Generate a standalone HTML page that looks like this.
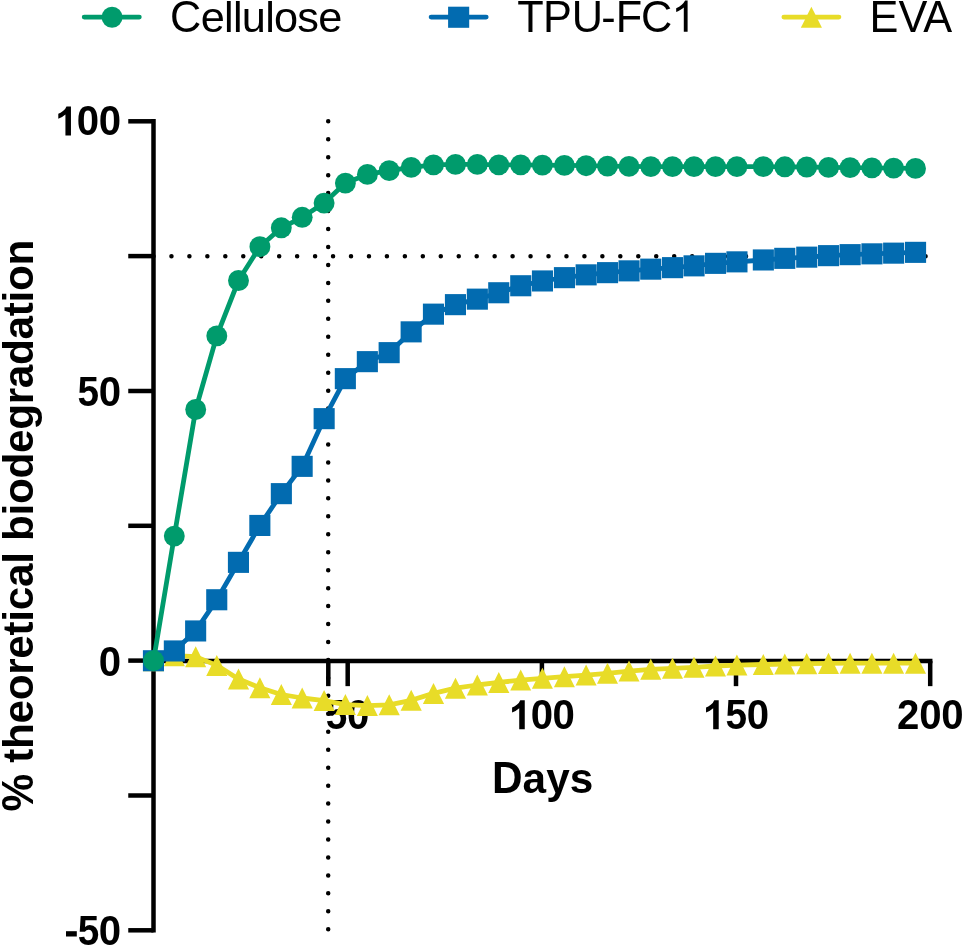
<!DOCTYPE html>
<html><head><meta charset="utf-8"><title>Biodegradation chart</title>
<style>html,body{margin:0;padding:0;background:#fff;}body{width:962px;height:945px;overflow:hidden;font-family:"Liberation Sans",sans-serif;}</style>
</head><body>
<svg width="962" height="945" viewBox="0 0 962 945" style="display:block;will-change:transform" font-family="Liberation Sans, sans-serif">
<rect width="962" height="945" fill="#fff"/>
<g stroke="#000" stroke-width="4.5" fill="none" stroke-linecap="butt">
<path d="M153.5 119.05V932.55"/>
<path d="M151.25 660.9H932.45"/>
<path d="M128.25 121.3H153.5"/>
<path d="M128.25 256.1H153.5"/>
<path d="M128.25 391.0H153.5"/>
<path d="M128.25 525.8H153.5"/>
<path d="M128.25 660.6H153.5"/>
<path d="M128.25 795.5H153.5"/>
<path d="M128.25 930.3H153.5"/>
<path d="M328.3 660.9V686.15"/>
<path d="M347.7 660.9V686.15"/>
<path d="M541.9 660.9V686.15"/>
<path d="M736.0 660.9V686.15"/>
<path d="M930.2 660.9V686.15"/>
</g>
<g font-weight="bold" font-size="41.67px" fill="#000">
<path transform="translate(55.10 135.40) scale(0.019678 -0.019678)" d="M806 0L525 0L525 1059Q371 915 162 846L162 1101Q272 1137 401 1237.5Q530 1338 578 1472L806 1472Z"/><text transform="translate(76.85 135.40) scale(0.965 1.01)">0</text><text transform="translate(98.75 135.40) scale(0.965 1.01)">0</text>
<text transform="translate(77.57 405.60) scale(0.93 1.01)">5</text><text transform="translate(98.75 405.60) scale(0.965 1.01)">0</text>
<text transform="translate(98.75 675.50) scale(0.965 1.01)">0</text>
<rect x="66.0" y="931.2" width="10.8" height="5.3"/><text transform="translate(77.67 945.40) scale(0.93 1.01)">5</text><text transform="translate(98.75 945.40) scale(0.965 1.01)">0</text>
<text transform="translate(325.67 729.20) scale(0.93 1.01)">5</text><text transform="translate(346.95 729.20) scale(0.965 1.01)">0</text>
<path transform="translate(508.90 729.20) scale(0.019678 -0.019678)" d="M806 0L525 0L525 1059Q371 915 162 846L162 1101Q272 1137 401 1237.5Q530 1338 578 1472L806 1472Z"/><text transform="translate(530.65 729.20) scale(0.965 1.01)">0</text><text transform="translate(552.60 729.20) scale(0.965 1.01)">0</text>
<path transform="translate(702.85 729.20) scale(0.019678 -0.019678)" d="M806 0L525 0L525 1059Q371 915 162 846L162 1101Q272 1137 401 1237.5Q530 1338 578 1472L806 1472Z"/><text transform="translate(725.57 729.20) scale(0.93 1.01)">5</text><text transform="translate(746.65 729.20) scale(0.965 1.01)">0</text>
<text transform="translate(896.98 729.20) scale(0.965 1.01)">2</text><text transform="translate(919.35 729.20) scale(0.965 1.01)">0</text><text transform="translate(941.35 729.20) scale(0.965 1.01)">0</text>
</g>
<g font-weight="bold" font-size="42.3px" fill="#000">
<text transform="translate(492.07 793.00) scale(1 1.04)">D</text>
<text x="522.62" y="793.0">ays</text>
<text transform="translate(32.8 811.5) rotate(-90) scale(1 1.07)">%</text>
<text transform="translate(32.8 762.78) rotate(-90) scale(1 1.02)" letter-spacing="-0.32">theoretical biodegradation</text>
</g>
<g stroke="#000" stroke-width="4.5" stroke-linecap="round" stroke-dasharray="0 17.955" fill="none">
<path d="M153.5 256.2H931.2"/>
<path d="M328.2 121.3V931.3"/>
</g>
<polyline points="153.5,660.7 174.3,655.7 195.7,656.7 216.8,665.4 238.5,679.0 259.9,687.8 281.3,694.5 302.2,698.0 324.1,700.6 345.4,704.6 367.4,705.6 389.2,704.8 411.2,700.3 433.5,693.4 455.5,688.2 477.3,685.0 498.8,682.4 520.7,680.1 542.4,678.3 564.4,676.7 586.1,675.1 607.5,673.3 629.0,671.1 650.8,669.3 672.5,668.3 694.0,667.3 715.5,666.0 736.9,665.1 763.3,664.5 784.8,664.0 806.7,663.6 828.5,663.4 850.1,663.2 871.9,663.2 893.6,663.2 915.5,663.2" fill="none" stroke="#E8DC28" stroke-width="4.8" stroke-linejoin="round" stroke-linecap="round"/>
<path fill="#E8DC28" d="M153.5 650.2L164.1 671.2L142.9 671.2ZM174.3 645.2L184.9 666.2L163.8 666.2ZM195.7 646.2L206.2 667.2L185.1 667.2ZM216.8 654.9L227.4 675.9L206.2 675.9ZM238.5 668.5L249.1 689.5L227.9 689.5ZM259.9 677.2L270.4 698.3L249.3 698.3ZM281.3 684.0L291.9 705.0L270.8 705.0ZM302.2 687.5L312.8 708.5L291.6 708.5ZM324.1 690.1L334.7 711.1L313.6 711.1ZM345.4 694.1L355.9 715.1L334.8 715.1ZM367.4 695.1L377.9 716.1L356.8 716.1ZM389.2 694.2L399.8 715.3L378.6 715.3ZM411.2 689.8L421.8 710.8L400.6 710.8ZM433.5 682.9L444.1 703.9L422.9 703.9ZM455.5 677.7L466.1 698.8L444.9 698.8ZM477.3 674.5L487.9 695.5L466.8 695.5ZM498.8 671.9L509.4 692.9L488.2 692.9ZM520.7 669.6L531.2 690.6L510.2 690.6ZM542.4 667.8L552.9 688.8L531.9 688.8ZM564.4 666.2L574.9 687.2L553.9 687.2ZM586.1 664.6L596.6 685.6L575.6 685.6ZM607.5 662.8L618.0 683.8L597.0 683.8ZM629.0 660.6L639.5 681.6L618.5 681.6ZM650.8 658.8L661.3 679.8L640.2 679.8ZM672.5 657.8L683.0 678.8L662.0 678.8ZM694.0 656.8L704.5 677.8L683.5 677.8ZM715.5 655.5L726.0 676.5L705.0 676.5ZM736.9 654.6L747.4 675.6L726.4 675.6ZM763.3 653.9L773.8 675.0L752.8 675.0ZM784.8 653.4L795.3 674.5L774.2 674.5ZM806.7 653.1L817.2 674.2L796.2 674.2ZM828.5 652.8L839.0 673.9L818.0 673.9ZM850.1 652.7L860.6 673.8L839.6 673.8ZM871.9 652.7L882.4 673.8L861.4 673.8ZM893.6 652.7L904.1 673.8L883.1 673.8ZM915.5 652.7L926.0 673.8L905.0 673.8Z"/>
<polyline points="153.5,660.7 174.3,650.9 195.7,630.9 216.8,599.7 238.5,562.3 259.9,525.4 281.3,493.7 302.2,466.4 324.1,418.7 345.4,378.6 367.4,361.6 389.2,352.6 411.2,331.9 433.5,314.2 455.5,304.6 477.3,299.2 498.8,292.8 520.7,285.8 542.4,281.0 564.4,277.7 586.1,274.9 607.5,272.7 629.0,270.9 650.8,269.2 672.5,267.7 694.0,265.9 715.5,263.4 736.9,261.9 763.3,260.0 784.8,258.4 806.7,257.2 828.5,255.7 850.1,254.7 871.9,253.9 893.6,253.2 915.5,252.4" fill="none" stroke="#026BB0" stroke-width="4.8" stroke-linejoin="round" stroke-linecap="round"/>
<g fill="#026BB0"><rect x="142.9" y="650.2" width="21.1" height="21.1"/><rect x="163.8" y="640.4" width="21.1" height="21.1"/><rect x="185.1" y="620.4" width="21.1" height="21.1"/><rect x="206.2" y="589.2" width="21.1" height="21.1"/><rect x="227.9" y="551.8" width="21.1" height="21.1"/><rect x="249.3" y="514.9" width="21.1" height="21.1"/><rect x="270.8" y="483.1" width="21.1" height="21.1"/><rect x="291.6" y="455.8" width="21.1" height="21.1"/><rect x="313.6" y="408.1" width="21.1" height="21.1"/><rect x="334.8" y="368.1" width="21.1" height="21.1"/><rect x="356.8" y="351.1" width="21.1" height="21.1"/><rect x="378.6" y="342.1" width="21.1" height="21.1"/><rect x="400.6" y="321.3" width="21.1" height="21.1"/><rect x="422.9" y="303.6" width="21.1" height="21.1"/><rect x="444.9" y="294.1" width="21.1" height="21.1"/><rect x="466.8" y="288.6" width="21.1" height="21.1"/><rect x="488.2" y="282.2" width="21.1" height="21.1"/><rect x="510.2" y="275.2" width="21.1" height="21.1"/><rect x="531.9" y="270.4" width="21.1" height="21.1"/><rect x="553.9" y="267.1" width="21.1" height="21.1"/><rect x="575.6" y="264.3" width="21.1" height="21.1"/><rect x="597.0" y="262.1" width="21.1" height="21.1"/><rect x="618.5" y="260.3" width="21.1" height="21.1"/><rect x="640.2" y="258.6" width="21.1" height="21.1"/><rect x="662.0" y="257.1" width="21.1" height="21.1"/><rect x="683.5" y="255.3" width="21.1" height="21.1"/><rect x="705.0" y="252.8" width="21.1" height="21.1"/><rect x="726.4" y="251.3" width="21.1" height="21.1"/><rect x="752.8" y="249.4" width="21.1" height="21.1"/><rect x="774.2" y="247.8" width="21.1" height="21.1"/><rect x="796.2" y="246.6" width="21.1" height="21.1"/><rect x="818.0" y="245.1" width="21.1" height="21.1"/><rect x="839.6" y="244.1" width="21.1" height="21.1"/><rect x="861.4" y="243.3" width="21.1" height="21.1"/><rect x="883.1" y="242.6" width="21.1" height="21.1"/><rect x="905.0" y="241.8" width="21.1" height="21.1"/></g>
<polyline points="153.5,660.7 174.3,536.1 195.7,409.5 216.8,335.9 238.5,280.5 259.9,246.7 281.3,227.8 302.2,217.3 324.1,203.1 345.4,183.1 367.4,174.4 389.2,170.6 411.2,167.4 433.5,164.9 455.5,164.4 477.3,164.4 498.8,164.9 520.7,164.9 542.4,165.1 564.4,165.4 586.1,165.7 607.5,166.1 629.0,166.4 650.8,166.6 672.5,166.6 694.0,166.6 715.5,166.6 736.9,166.6 763.3,166.6 784.8,166.8 806.7,167.0 828.5,167.4 850.1,167.6 871.9,167.9 893.6,168.1 915.5,168.4" fill="none" stroke="#009B6C" stroke-width="4.8" stroke-linejoin="round" stroke-linecap="round"/>
<g fill="#009B6C"><circle cx="153.5" cy="660.7" r="10.45"/><circle cx="174.3" cy="536.1" r="10.45"/><circle cx="195.7" cy="409.5" r="10.45"/><circle cx="216.8" cy="335.9" r="10.45"/><circle cx="238.5" cy="280.5" r="10.45"/><circle cx="259.9" cy="246.7" r="10.45"/><circle cx="281.3" cy="227.8" r="10.45"/><circle cx="302.2" cy="217.3" r="10.45"/><circle cx="324.1" cy="203.1" r="10.45"/><circle cx="345.4" cy="183.1" r="10.45"/><circle cx="367.4" cy="174.4" r="10.45"/><circle cx="389.2" cy="170.6" r="10.45"/><circle cx="411.2" cy="167.4" r="10.45"/><circle cx="433.5" cy="164.9" r="10.45"/><circle cx="455.5" cy="164.4" r="10.45"/><circle cx="477.3" cy="164.4" r="10.45"/><circle cx="498.8" cy="164.9" r="10.45"/><circle cx="520.7" cy="164.9" r="10.45"/><circle cx="542.4" cy="165.1" r="10.45"/><circle cx="564.4" cy="165.4" r="10.45"/><circle cx="586.1" cy="165.7" r="10.45"/><circle cx="607.5" cy="166.1" r="10.45"/><circle cx="629.0" cy="166.4" r="10.45"/><circle cx="650.8" cy="166.6" r="10.45"/><circle cx="672.5" cy="166.6" r="10.45"/><circle cx="694.0" cy="166.6" r="10.45"/><circle cx="715.5" cy="166.6" r="10.45"/><circle cx="736.9" cy="166.6" r="10.45"/><circle cx="763.3" cy="166.6" r="10.45"/><circle cx="784.8" cy="166.8" r="10.45"/><circle cx="806.7" cy="167.0" r="10.45"/><circle cx="828.5" cy="167.4" r="10.45"/><circle cx="850.1" cy="167.6" r="10.45"/><circle cx="871.9" cy="167.9" r="10.45"/><circle cx="893.6" cy="168.1" r="10.45"/><circle cx="915.5" cy="168.4" r="10.45"/></g>
<path d="M84.2 17.05H139.29999999999998" stroke="#009B6C" stroke-width="4.8" stroke-linecap="round"/><circle cx="112.05" cy="17.25" r="10.45" fill="#009B6C"/>
<path d="M431.09999999999997 17.05H486.20000000000005" stroke="#026BB0" stroke-width="4.8" stroke-linecap="round"/><rect x="448.09999999999997" y="6.699999999999999" width="21.1" height="21.1" fill="#026BB0"/>
<path d="M783.9 17.05H838.9" stroke="#E8DC28" stroke-width="4.8" stroke-linecap="round"/><path d="M811.4 6.699999999999999L821.9499999999999 27.8L800.85 27.8Z" fill="#E8DC28"/>
<g font-size="43.3px" fill="#000">
<text transform="translate(170.00 31.70) scale(1 1.04)">C</text>
<text x="200.77" y="31.7" letter-spacing="-0.75">ellulose</text>
<text transform="translate(517.23 31.70) scale(1 1.04)">T</text>
<text transform="translate(543.05 31.70) scale(1 1.04)">P</text>
<text transform="translate(571.76 31.70) scale(1 1.04)">U</text>
<text transform="translate(601.28 31.70)">-</text>
<text transform="translate(615.65 31.70) scale(1 1.04)">F</text>
<text transform="translate(641.10 31.70) scale(1 1.04)">C</text>
<path transform="translate(671.47 31.70) scale(0.021143 -0.021143)" d="M763 0L583 0L583 1147Q518 1085 412.5 1023Q307 961 223 930L223 1104Q374 1175 487 1276Q600 1377 647 1472L763 1472Z"/>
<text transform="translate(869.45 31.70) scale(1 1.04)">E</text><text transform="translate(898.41 31.70) scale(1 1.04)">V</text><text transform="translate(923.22 31.70) scale(1 1.04)">A</text>
</g>
</svg>
</body></html>
